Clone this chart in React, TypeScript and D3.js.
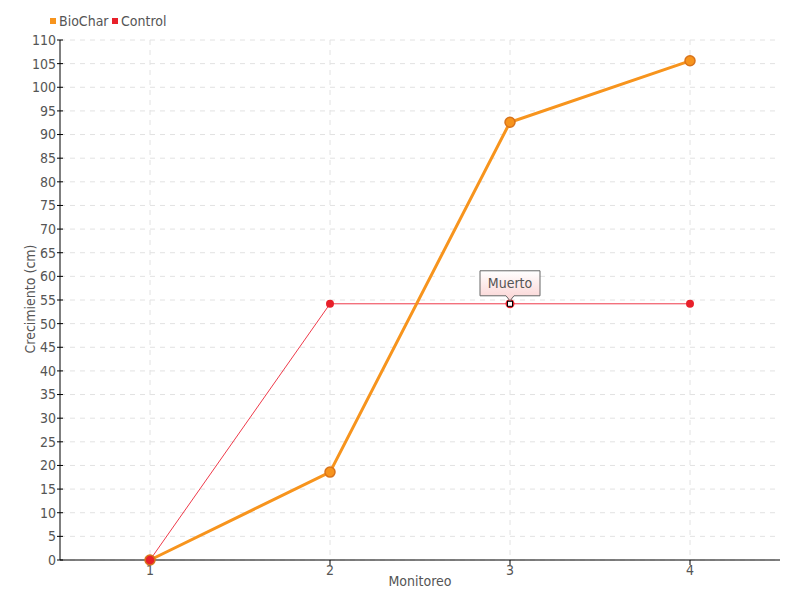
import React from "react";
import * as d3 from "d3";

const categories = [1, 2, 3, 4];
const biochar = [0, 18.6, 92.6, 105.6];
const control = [0, 54.2, 54.2, 54.2];
const yTicks = d3.range(0, 111, 5);
const annotationLabel = "Muerto";
const annotationIndex = 2;

const W = 800, H = 600;
const L = 60, R = 780, T = 40, B = 560;
const FONT = "'DejaVu Sans Condensed', 'DejaVu Sans', sans-serif";
const FS = 14;
const TXT = "#555";

export default function App() {
  const x = d3.scaleLinear().domain([0.5, 4.5]).range([L, R]);
  const y = d3.scaleLinear().domain([0, 110]).range([B, T]);
  const line = d3.line<number>().x((_, i) => x(categories[i])).y((d) => y(d));
  const ax = x(categories[annotationIndex]);
  const ay = y(control[annotationIndex]);
  return (
    <svg width={W} height={H} style={{ position: "absolute", left: 0, top: 0 }} fontFamily={FONT} fontStretch="condensed">
      <defs>
        <linearGradient id="tip" x1="0" y1="0" x2="0" y2="1">
          <stop offset="0" stopColor="#ffffff" />
          <stop offset="1" stopColor="#fbd3d3" />
        </linearGradient>
      </defs>
      <rect width={W} height={H} fill="#fff" />
      {yTicks.map((t) => (
        <line key={"g" + t} x1={L} x2={R} y1={y(t)} y2={y(t)} stroke="#e2e2e2" strokeDasharray="5,5" />
      ))}
      {categories.map((c) => (
        <line key={"v" + c} x1={x(c)} x2={x(c)} y1={T} y2={B} stroke="#e2e2e2" strokeDasharray="5,5" />
      ))}
      <line x1={L} x2={L} y1={T} y2={B} stroke="#000" />
      <line x1={L} x2={R} y1={B} y2={B} stroke="#000" />
      {yTicks.map((t) => (
        <g key={"t" + t}>
          <line x1={L - 3} x2={L + 3} y1={y(t)} y2={y(t)} stroke="#000" />
          <text x={L - 4} y={y(t)} dy="0.35em" textAnchor="end" fontSize={FS} fill={TXT}>{t}</text>
        </g>
      ))}
      {categories.map((c) => (
        <g key={"xt" + c}>
          <line x1={x(c)} x2={x(c)} y1={B} y2={B + 5} stroke="#000" />
          <text x={x(c)} y={B + 15} textAnchor="middle" fontSize={FS} fill={TXT}>{c}</text>
        </g>
      ))}
      <text x={420} y={586} textAnchor="middle" fontSize={FS} fill={TXT}>Monitoreo</text>
      <text transform={`translate(35,299) rotate(-90)`} textAnchor="middle" fontSize={FS} fill={TXT}>Crecimiento (cm)</text>

      <path d={line(control) || ""} fill="none" stroke="#ee3a4a" strokeWidth={1} />
      <path d={line(biochar) || ""} fill="none" stroke="#f7941d" strokeWidth={3} />
      {control.map((v, i) =>
        i === annotationIndex ? (
          <g key={"c" + i}>
            <circle cx={x(categories[i])} cy={y(v)} r={4.5} fill="#e8202a" />
            <rect x={x(categories[i]) - 2.5} y={y(v) - 2.5} width={5} height={5} fill="#fff" stroke="#000" strokeWidth={1} />
          </g>
        ) : (
          <circle key={"c" + i} cx={x(categories[i])} cy={y(v)} r={4} fill="#e8202a" />
        )
      )}
      {biochar.map((v, i) => (
        <circle key={"b" + i} cx={x(categories[i])} cy={y(v)} r={5} fill={i === 0 ? "#e8202a" : "#f7941d"} stroke="#d9731a" strokeWidth={1.5} />
      ))}

      <path
        d={`M${ax - 30},${ay - 33} H${ax + 30} V${ay - 8} H${ax + 4} L${ax},${ay - 3} L${ax - 4},${ay - 8} H${ax - 30} Z`}
        fill="url(#tip)" stroke="#666" strokeWidth={1}
      />
      <text x={ax} y={ay - 16} textAnchor="middle" fontSize={FS} fill={TXT}>{annotationLabel}</text>

      <rect x={50} y={18} width={6} height={6} fill="#f7941d" />
      <text x={59} y={26} fontSize={FS} fill={TXT}>BioChar</text>
      <rect x={112} y={18} width={6} height={6} fill="#e8202a" />
      <text x={121} y={26} fontSize={FS} fill={TXT}>Control</text>
    </svg>
  );
}
